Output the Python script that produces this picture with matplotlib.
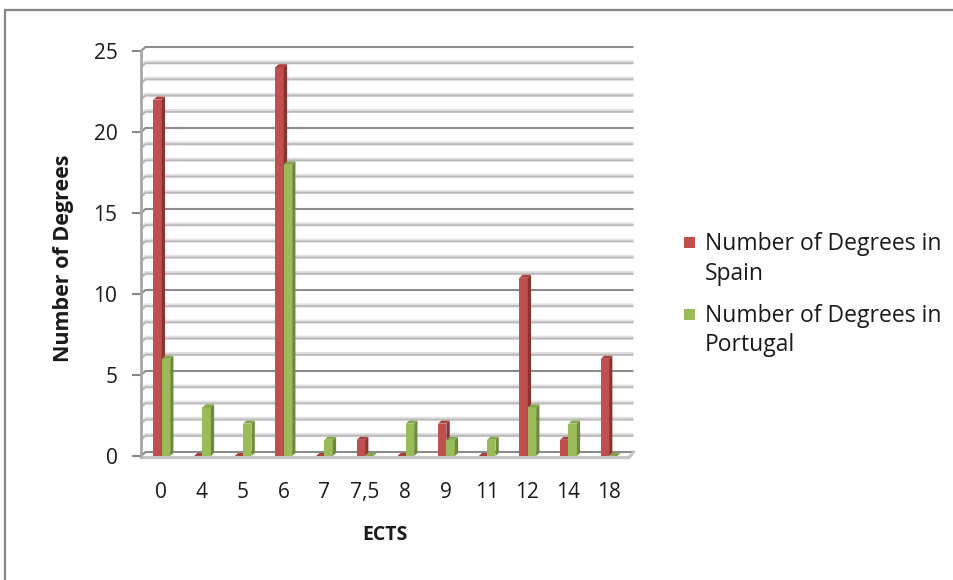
import matplotlib
matplotlib.use("Agg")
import matplotlib.pyplot as plt
from matplotlib.patches import Polygon, Rectangle
import matplotlib.patheffects as pe

# ECTS credit values and number of degrees per country
categories = ["0", "4", "5", "6", "7", "7,5", "8", "9", "11", "12", "14", "18"]
spain = [22, 0, 0, 24, 0, 1, 0, 2, 0, 11, 1, 6]
portugal = [6, 3, 2, 18, 1, 0, 2, 1, 1, 3, 2, 0]
series_labels = [("Number of Degrees in", "Spain"), ("Number of Degrees in", "Portugal")]
y_ticks = [0, 5, 10, 15, 20, 25]

plt.rcParams['font.family'] = ['Open Sans', 'DejaVu Sans']

W, H = 954, 580
fig = plt.figure(figsize=(W / 100, H / 100), dpi=100)
fig.patch.set_facecolor("white")

# outer chart frame
fig.patches.append(Rectangle((5 / W, -0.1), 1.2, 1 - 10 / H + 0.1, transform=fig.transFigure,
                             facecolor="none", edgecolor="#868686", linewidth=1.6))

ax_l, ax_r, ax_t, ax_b = 141, 629, 51, 456
ax = fig.add_axes([ax_l / W, 1 - ax_b / H, (ax_r - ax_l) / W, (ax_b - ax_t) / H])
n = len(categories)
ax.set_xlim(-0.5, n - 0.5)
ax.set_ylim(0, 25)
ax.patch.set_visible(False)
for s in ax.spines.values():
    s.set_visible(False)

px_x = (ax_r - ax_l) / n      # pixels per category
px_y = (ax_b - ax_t) / 25     # pixels per unit

# wall depth (gridlines on the back wall) and bar depth
wdx, wdy = 4.5 / px_x, 4.0 / px_y
bdx, bdy = 3.3 / px_x, 3.0 / px_y

# gridlines: short diagonal on the side wall, then across the back wall
for v in range(0, 26):
    major = v % 5 == 0
    col = "#8c8c8c" if major else "#b9b9b9"
    effects = [] if major else [pe.SimpleLineShadow(offset=(0, 1.3), shadow_color="#e2e2e2", alpha=1, rho=1)]
    ax.plot([-0.5, -0.5 + wdx, n - 0.5 + wdx], [v, v + wdy, v + wdy], color=col,
            lw=1.5, zorder=1, clip_on=False, solid_capstyle="butt",
            path_effects=effects + [pe.Normal()])

# floor front edge and right edge
ax.plot([-0.5, n - 0.5, n - 0.5 + wdx], [-0.1, -0.1, wdy], color="#c4c4c4", lw=2.2,
        zorder=1.5, clip_on=False)
# value axis line
ax.plot([-0.5, -0.5], [0, 25], color="#a8a8a8", lw=2, zorder=1.6, clip_on=False)

w = 0.205
front = {"spain": "#C0504D", "portugal": "#9BBB59"}
side = {"spain": "#8B3331", "portugal": "#6C8A38"}
top = {"spain": "#A8403D", "portugal": "#86A44A"}


def draw_series(values, offset, key, z):
    xs = [i + offset for i in range(n)]
    ax.bar(xs, values, width=w, align="edge", color=front[key], edgecolor="none", zorder=z)
    for x0, v in zip(xs, values):
        x1 = x0 + w
        ax.add_patch(Polygon([(x1, 0), (x1 + bdx, bdy), (x1 + bdx, v + bdy), (x1, v)],
                             closed=True, facecolor=side[key], edgecolor="none", zorder=z))
        ax.add_patch(Polygon([(x0, v), (x1, v), (x1 + bdx, v + bdy), (x0 + bdx, v + bdy)],
                             closed=True, facecolor=top[key], edgecolor="none", zorder=z))


draw_series(spain, -0.195, "spain", 3)
draw_series(portugal, 0.012, "portugal", 4)

ax.set_yticks(y_ticks)
ax.set_yticklabels([str(t) for t in y_ticks])
ax.tick_params(axis="y", length=6.5, width=1.5, color="#878787", pad=10.5,
               labelsize=15, labelcolor="#1a1a1a")
ax.set_xticks(range(n))
ax.set_xticklabels(categories)
ax.tick_params(axis="x", length=0, pad=19, labelsize=15, labelcolor="#1a1a1a")

fig.text(64 / W, 1 - 258 / H, "Number of Degrees", rotation=90, ha="center", va="center",
         fontsize=15.5, fontweight="bold", color="#1a1a1a")
fig.text(385 / W, 1 - 535 / H, "ECTS", ha="center", va="center",
         fontsize=14, fontweight="bold", color="#1a1a1a")

# legend
legend_rows = [(242, "#C0504D", 250, 280), (314, "#9BBB59", 322, 351)]
for (cy, col, b1, b2), (l1, l2) in zip(legend_rows, series_labels):
    fig.patches.append(Rectangle((684 / W, 1 - (cy + 5.5) / H), 11 / W, 11 / H,
                                 transform=fig.transFigure, facecolor=col, edgecolor="none"))
    fig.text(705 / W, 1 - b1 / H, l1, ha="left", va="baseline", fontsize=16.5, color="#1a1a1a")
    fig.text(705 / W, 1 - b2 / H, l2, ha="left", va="baseline", fontsize=16.5, color="#1a1a1a")

fig.savefig("out.png", dpi=100)
